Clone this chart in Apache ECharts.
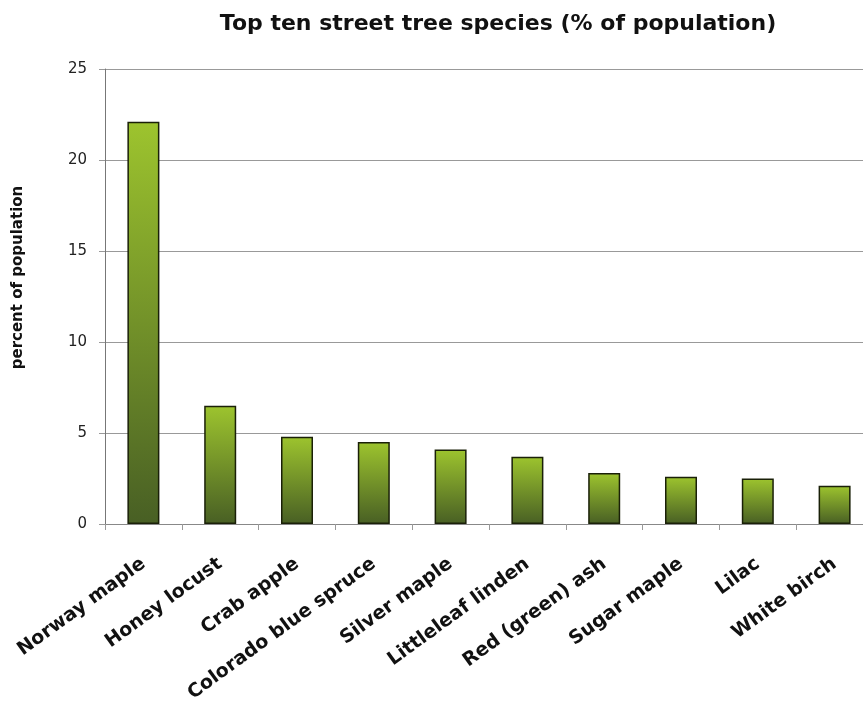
<!DOCTYPE html>
<html>
<head>
<meta charset="utf-8">
<script src="https://cdn.jsdelivr.net/npm/echarts@6/dist/echarts.min.js"></script>
<style>
html, body { margin: 0; padding: 0; background: #fff; overflow: hidden; }
#main { width: 873px; height: 710px; }
</style>
</head>
<body>
<div id="main"></div>
<script>
var species = ['Norway maple', 'Honey locust', 'Crab apple', 'Colorado blue spruce', 'Silver maple',
    'Littleleaf linden', 'Red (green) ash', 'Sugar maple', 'Lilac', 'White birch'];
var percents = [22.1, 6.5, 4.8, 4.5, 4.1, 3.7, 2.8, 2.6, 2.5, 2.1];
var yTicks = [0, 5, 10, 15, 20, 25];

// grid runs off the right edge like the original, so the div is a bit wider than the window
var myChart = echarts.init(document.getElementById('main'));
var font = 'DejaVu Sans';
var option = {
    title: {
        text: 'Top ten street tree species (% of population)',
        left: 493, top: 8, textAlign: 'center',
        textStyle: { fontFamily: font, fontSize: 22, fontWeight: 'bold', color: '#111' }
    },
    grid: { left: 105, right: 0, top: 69, height: 455 },
    xAxis: {
        type: 'category',
        data: species,
        axisLine: { lineStyle: { color: '#888', width: 1 } },
        axisTick: { show: true, length: 6, lineStyle: { color: '#999' } },
        axisLabel: {
            rotate: 36, interval: 0, margin: 38,
            fontFamily: font, fontSize: 19, fontWeight: 'bold', color: '#111'
        }
    },
    yAxis: {
        type: 'value', min: yTicks[0], max: yTicks[yTicks.length - 1], interval: 5,
        name: 'percent of population', nameLocation: 'middle', nameGap: 79, nameRotate: 90,
        nameTextStyle: { fontFamily: font, fontSize: 15, fontWeight: 'bold', color: '#111', padding: [0, 0, 0, 38] },
        axisLine: { show: true, lineStyle: { color: '#777' } },
        axisTick: { show: true, length: 6, lineStyle: { color: '#999' } },
        axisLabel: { fontFamily: font, fontSize: 15, color: '#222', margin: 18 },
        splitLine: { lineStyle: { color: '#999', width: 1 } }
    },
    series: [{
        type: 'bar',
        data: percents,
        barWidth: 32,
        itemStyle: {
            borderColor: '#1a2008', borderWidth: 1.5,
            color: new echarts.graphic.LinearGradient(0, 0, 0, 1, [
                { offset: 0, color: '#9dc42e' },
                { offset: 1, color: '#485f24' }
            ])
        }
    }]
};
myChart.setOption(option, true);
</script>
</body>
</html>
